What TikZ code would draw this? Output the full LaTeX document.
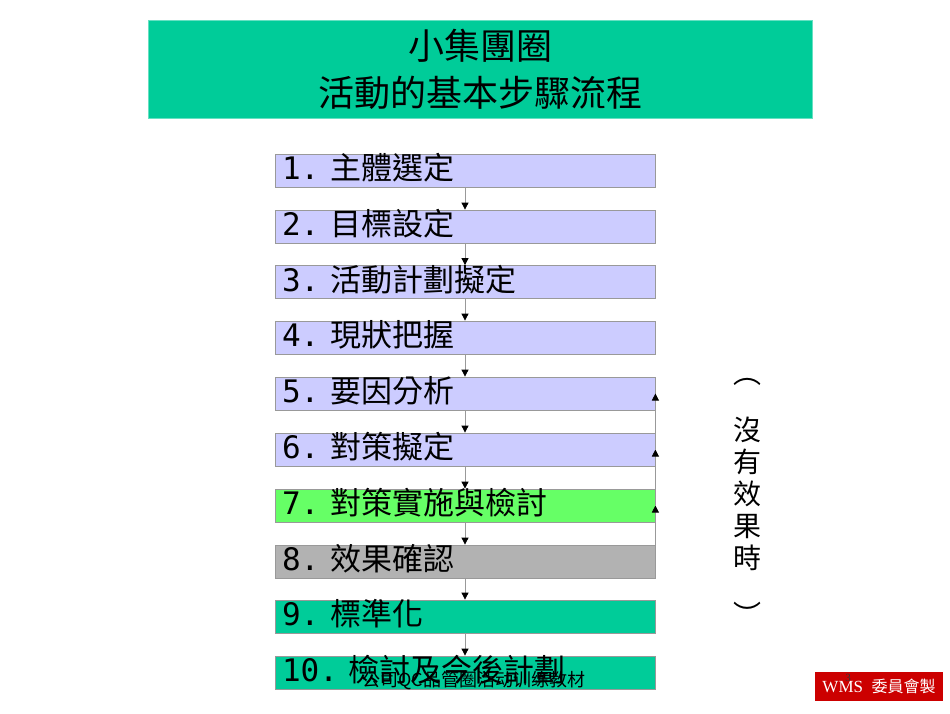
\documentclass[tikz,border=0pt]{standalone}
\usepackage{fontspec}
\setmainfont{Liberation Serif}
\setmonofont{DejaVu Sans Mono}
\newfontfamily\cjk{Noto Sans CJK TC}
\usetikzlibrary{arrows.meta}
\definecolor{teal1}{HTML}{00CC99}
\definecolor{lav}{HTML}{CCCCFF}
\definecolor{lgreen}{HTML}{66FF66}
\definecolor{gbox}{HTML}{B2B2B2}
\definecolor{wred}{HTML}{CC0000}
\definecolor{edgegray}{HTML}{999999}
\tikzset{
  stepbox/.style={draw=edgegray, line width=0.8pt, minimum height=33pt,
    text width=366pt, inner xsep=7pt, inner ysep=0pt, align=left,
    font=\fontsize{31}{31}\selectfont, text height=23pt, text depth=5pt},
  flow/.style={draw=edgegray, line width=0.8pt,
    -{Triangle[width=7pt,length=7pt,black]}},
}
\newcommand{\num}[1]{{\ttfamily #1}\hspace{11pt}}
\begin{document}
\begin{tikzpicture}[x=1pt,y=-1pt]
\path[use as bounding box, fill=white] (0,0) rectangle (950,713);
\node[fill=teal1, draw=teal1!60!white, line width=0.5pt, minimum width=664pt, minimum height=98pt,
  align=center, font=\cjk\fontsize{36}{47}\selectfont, inner sep=0pt] (title) at (480,69)
  {\raisebox{-5pt}{小集團圈}\\\raisebox{-5pt}{活動的基本步驟流程}};
\node[stepbox, fill=lav] (b1) at (465,170.5) {\num{1.}\cjk 主體選定};
\node[stepbox, fill=lav] (b2) at (465,226.5) {\num{2.}\cjk 目標設定};
\node[stepbox, fill=lav] (b3) at (465,282) {\num{3.}\cjk 活動計劃擬定};
\node[stepbox, fill=lav] (b4) at (465,337.5) {\num{4.}\cjk 現狀把握};
\node[stepbox, fill=lav] (b5) at (465,393.5) {\num{5.}\cjk 要因分析};
\node[stepbox, fill=lav] (b6) at (465,449.5) {\num{6.}\cjk 對策擬定};
\node[stepbox, fill=lgreen] (b7) at (465,505.5) {\num{7.}\cjk 對策實施與檢討};
\node[stepbox, fill=gbox] (b8) at (465,561.5) {\num{8.}\cjk 效果確認};
\node[stepbox, fill=teal1] (b9) at (465,616.5) {\num{9.}\cjk 標準化};
\node[stepbox, fill=teal1] (b10) at (465,672.5) {\num{10.}\cjk 檢討及今後計劃};
\foreach \a/\b in {b1/b2,b2/b3,b3/b4,b4/b5,b5/b6,b6/b7,b7/b8,b8/b9,b9/b10}
  \draw[flow] (\a.south) -- (\b.north);
\draw[flow] (b8.east) -- (b7.east);
\draw[flow] (b7.east) -- (b6.east);
\draw[flow] (b6.east) -- (b5.east);
\node[font=\cjk\fontsize{28}{32}\selectfont, align=center, inner sep=0pt] (note) at (747,502)
  {︵\\[25pt]沒\\有\\效\\果\\時\\[25pt]︶};
\node[font=\cjk\fontsize{18}{18}\selectfont, inner sep=0pt] (foot) at (474,681) {公司QC品管圈活动训练教材};
\node[fill=wred, minimum width=128pt, minimum height=29pt, inner sep=0pt, text=white,
  font=\fontsize{17}{17}\selectfont] (wms) at (879,686.5) {WMS\ \ {\cjk\fontsize{16}{16}\selectfont 委員會製}};
\node[font=\fontsize{11}{11}\selectfont, text=black!80, inner sep=0pt] (pg) at (848,678) {3};
\end{tikzpicture}
\end{document}
